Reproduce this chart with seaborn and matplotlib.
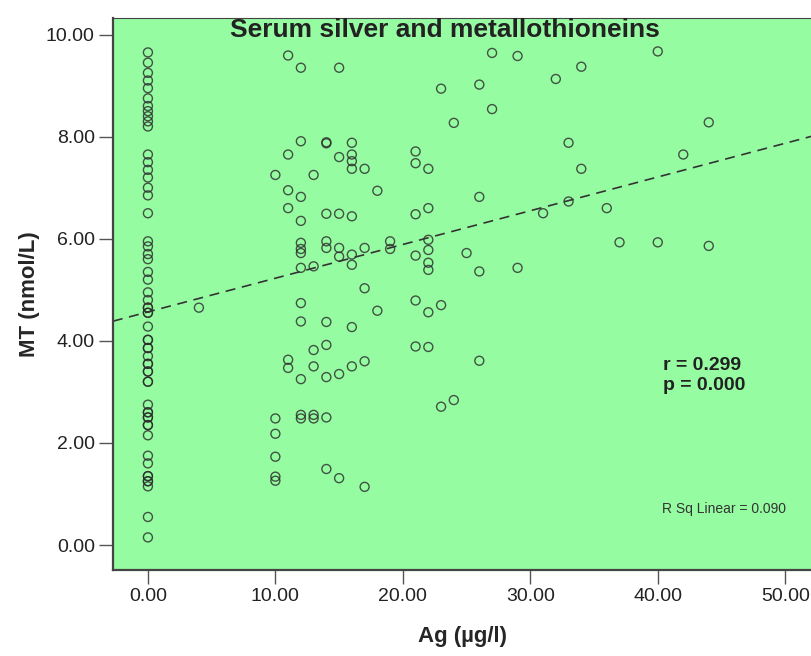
import numpy as np
import pandas as pd
import seaborn as sns
import matplotlib.pyplot as plt

# Ag (ug/l) values, one entry per subject
ag_ugl = (
    [0] * 59 + [4] + [10] * 6 + [11] * 6 + [12] * 13 + [13] * 6 + [14] * 10
    + [15] * 7 + [16] * 9 + [17] * 5 + [18] * 2 + [19] * 2 + [21] * 6 + [22] * 8
    + [23] * 3 + [24] * 2 + [25] + [26] * 4 + [27] * 2 + [29] * 2 + [31] + [32]
    + [33] * 2 + [34] * 2 + [36] + [37] + [40] * 2 + [42] + [44] * 2
)

# MT (nmol/L) values in the same order
mt_nmol = [
    # Ag = 0 (many overlapping circles in this column)
    9.65, 9.45, 9.25, 9.10, 8.95, 8.75, 8.60, 8.50, 8.40, 8.30, 8.20, 7.65, 7.50,
    7.35, 7.20, 7.00, 6.85, 6.50, 5.95, 5.85, 5.70, 5.60, 5.35, 5.20, 4.95, 4.80,
    4.65, 4.65, 4.55, 4.55, 4.28, 4.02, 4.02, 3.86, 3.86, 3.70, 3.55, 3.55, 3.40,
    3.40, 3.20, 3.20, 2.75, 2.60, 2.60, 2.50, 2.50, 2.35, 2.35, 2.15, 1.75, 1.60,
    1.35, 1.35, 1.25, 1.25, 1.15, 0.55, 0.15,
    4.65,                                                   # 4
    7.25, 2.48, 2.18, 1.73, 1.34, 1.26,                     # 10
    9.59, 7.65, 6.95, 6.60, 3.63, 3.47,                     # 11
    9.35, 7.91, 6.82, 6.35, 5.92, 5.80, 5.72, 5.43, 4.74, 4.38, 3.25, 2.55, 2.48,
    7.25, 5.46, 3.82, 3.50, 2.55, 2.48,                     # 13
    7.89, 7.87, 6.49, 5.95, 5.82, 4.37, 3.92, 3.29, 2.50, 1.49,
    9.35, 7.60, 6.49, 5.82, 5.65, 3.35, 1.31,               # 15
    7.88, 7.65, 7.52, 7.37, 6.44, 5.69, 5.49, 4.27, 3.50,   # 16
    7.37, 5.82, 5.03, 3.60, 1.14,                           # 17
    6.94, 4.59,                                             # 18
    5.95, 5.80,                                             # 19
    7.71, 7.48, 6.48, 5.67, 4.79, 3.89,                     # 21
    7.37, 6.60, 5.98, 5.78, 5.53, 5.39, 4.56, 3.88,         # 22
    8.94, 4.70, 2.71,                                       # 23
    8.27, 2.84,                                             # 24
    5.72,                                                   # 25
    9.02, 6.82, 5.36, 3.61,                                 # 26
    9.64, 8.54,                                             # 27
    9.58, 5.43,                                             # 29
    6.50,                                                   # 31
    9.13,                                                   # 32
    7.88, 6.73,                                             # 33
    9.37, 7.37,                                             # 34
    6.60,                                                   # 36
    5.93,                                                   # 37
    9.67, 5.93,                                             # 40
    7.65,                                                   # 42
    8.28, 5.86,                                             # 44
]

x_ticks = [0, 10, 20, 30, 40, 50]
y_ticks = [0, 2, 4, 6, 8, 10]

df = pd.DataFrame({'Ag': ag_ugl, 'MT': mt_nmol})

sns.set_style('ticks')
plt.rcParams['font.family'] = ['Liberation Sans', 'DejaVu Sans']

fig = plt.figure(figsize=(8.12, 6.56), dpi=100)
ax = fig.add_axes([0.139, 0.131, 0.861, 0.842])
ax.set_facecolor('#96fca2')
ax.set_xlim(-2.75, 52.1)
ax.set_ylim(-0.49, 10.33)

# scatter + least squares line, line runs across the whole axis
sns.regplot(data=df, x='Ag', y='MT', ax=ax, ci=None, truncate=False,
            scatter_kws=dict(s=42, facecolors='none', edgecolors='#2a2a2a', linewidths=1.0),
            line_kws=dict(color='#333333', lw=1.2, ls=(0, (6, 4))))

ax.set_xticks(x_ticks)
ax.set_yticks(y_ticks)
ax.set_xticklabels([f'{v:.2f}' for v in x_ticks], fontsize=14)
ax.set_yticklabels([f'{v:.2f}' for v in y_ticks], fontsize=14)
ax.tick_params(length=10, width=1, color='#555555', labelcolor='#222222', pad=3)
for s in ax.spines.values():
    s.set_color('#444444')
ax.spines['left'].set_linewidth(1.6)
ax.spines['bottom'].set_linewidth(1.6)

ax.set_xlabel('Ag (µg/l)', fontsize=16, fontweight='bold', labelpad=15)
ax.set_ylabel('MT (nmol/L)', fontsize=16, fontweight='bold', labelpad=4)

ax.text(0.475, 0.978, 'Serum silver and metallothioneins', transform=ax.transAxes,
        ha='center', va='center', fontsize=19, fontweight='bold', color='#222222')
ax.text(0.787, 0.352, 'r = 0.299\np = 0.000', transform=ax.transAxes,
        ha='left', va='center', fontsize=14, fontweight='bold', color='#222222',
        linespacing=1.25)
ax.text(0.785, 0.111, 'R Sq Linear = 0.090', transform=ax.transAxes,
        ha='left', va='center', fontsize=10, color='#333333')

fig.savefig('out.png', dpi=100)
